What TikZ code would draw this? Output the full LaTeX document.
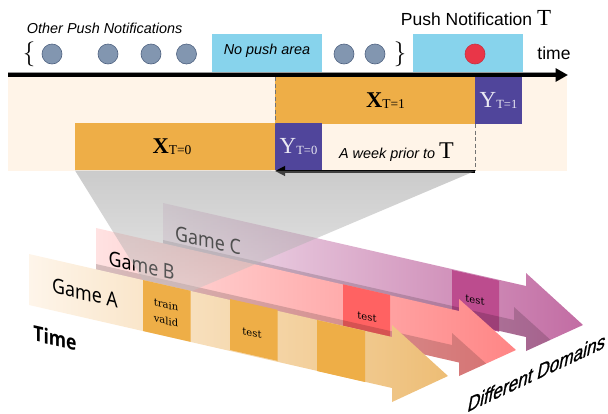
\documentclass[tikz,border=0pt]{standalone}
\usepackage{fontspec}
\setmainfont{Liberation Sans}
\newfontfamily\timesf{Liberation Serif}
\newfontfamily\gamef[FakeStretch=0.87]{Noto Sans}
\newfontfamily\gamebf[FakeStretch=0.84]{Open Sans}
\newfontfamily\domf[FakeBold=1,FakeSlant=0.2,FakeStretch=0.86]{Liberation Sans}
\newfontfamily\typef{DejaVu Serif}
\usetikzlibrary{arrows.meta}
\definecolor{skyb}{HTML}{87D3EC}
\definecolor{beige}{HTML}{FFF4E8}
\definecolor{orng}{HTML}{EEAE47}
\definecolor{purp}{HTML}{50459B}
\definecolor{dotb}{HTML}{8296B0}
\definecolor{dote}{HTML}{4F6280}
\definecolor{redd}{HTML}{E93648}
\definecolor{redE}{HTML}{C93040}
\definecolor{aL}{HTML}{FEF5EA}
\definecolor{aR}{HTML}{EDBD75}
\definecolor{bL}{HTML}{FFE2E2}
\definecolor{bR}{HTML}{FF8585}
\definecolor{cL}{HTML}{F3E6F0}
\definecolor{cR}{HTML}{C26CA3}
\definecolor{bT}{HTML}{FF6262}
\definecolor{cT}{HTML}{BC4C8E}
\tikzset{
 every node/.style={inner sep=0pt,outer sep=0pt},
 tbox/.style={minimum width=#1,minimum height=47pt},
 xbox/.style={tbox=200pt,fill=orng,text=black},
 ybox/.style={tbox=47pt,fill=purp,text=white!88!purp},
 skybox/.style={minimum width=110pt,minimum height=38pt,fill=skyb},
 dot/.style={circle,minimum size=20pt,fill=dotb,draw=dote,line width=.6pt},
 reddot/.style={circle,minimum size=20pt,fill=redd,draw=redE,line width=.6pt},
 lab/.style={font=\itshape\fontsize{14.4pt}{16pt}\selectfont},
 big/.style={font=\fontsize{17.5pt}{19pt}\selectfont},
 gamel/.style={font=\gamef\fontsize{20.5pt}{22pt}\selectfont,yslant=-.228},
 typel/.style={font=\typef\fontsize{10pt}{12pt}\selectfont,yslant=-.228},
 dashl/.style={dash pattern=on 4pt off 2.5pt,draw=black!55,line width=1pt},
 shadowp/.style={fill=black,fill opacity=.16},
}
\newcommand{\xsub}[1]{{\timesf\fontsize{22.5pt}{23pt}\selectfont\bfseries X\fontsize{13.5pt}{14pt}\selectfont\mdseries\raisebox{-1pt}{#1}}}
\newcommand{\ysub}[1]{{\timesf\fontsize{23pt}{24pt}\selectfont Y\fontsize{12.5pt}{14pt}\selectfont\raisebox{-1pt}{#1}}}
\begin{document}
\begin{tikzpicture}[x=1pt,y=-1pt]
\useasboundingbox (0,0) rectangle (608,413);
% ---- top panel
\fill[beige] (8,77) rectangle (567,171);
\node[skybox] (nopush) at (267,53) {};
\node[skybox] (pushT) at (468,53) {};
\node[lab] (nptext) at (267,51) {No push area};
\node[lab,anchor=west] (other) at (27,28) {Other Push Notifications};
\node[big,anchor=base] (pn) at (476,25) {Push Notification {\timesf\fontsize{23pt}{23pt}\selectfont T}};
\node[big] (timel) at (554,53) {time};
\node[font=\fontsize{26pt}{26pt}\selectfont] (lb) at (29,54) {$\{$};
\node[font=\fontsize{26pt}{26pt}\selectfont] (rb) at (400,54) {$\}$};
\foreach \n/\x in {a/52,b/108,c/151,d/186.5,e/344,f/375}{\node[dot] (dot\n) at (\x,54) {};}
\node[reddot] (dotT) at (475,54) {};
\coordinate (axisL) at (8,75);
\coordinate (axisR) at (568,75);
\draw[black!40,line width=.6pt] (8,72.3) -- (556,72.3);
\draw[line width=4.5pt,-{Triangle[length=12.5pt,width=13pt]}] (axisL) -- (axisR);
\node[xbox] (x1) at (375,100.5) {};
\node[ybox] (y1) at (498.5,100.5) {\ysub{T=1}};
\node[xbox] (x0) at (175,146.5) {};
\node[ybox] (y0) at (298.5,146.5) {\ysub{T=0}};
\node (x1t) at (385.5,101) {\xsub{T=1}};
\node (x0t) at (172,147) {\xsub{T=0}};
\draw[dashl] (x1.north west) -- (x0.north east);
\draw[dashl] (x1.south east) -- (475,170);
\node[lab,anchor=base] (week) at (396.5,158.7) {A week prior to {\timesf\upshape\fontsize{24pt}{24pt}\selectfont T}};
\draw[line width=3pt,-{Triangle[length=10pt,width=9.5pt]}] (475,171) -- (x0.south east |- 0,171);
% ---- Game C
\def\cshape{(163,203) -- (526,286) -- (526,273) -- (583,325) -- (526,351) -- (526,337) -- (163,254) -- cycle}
\def\bshape{(96,228) -- (459,311) -- (459,299) -- (516,350) -- (459,376) -- (459,362.5) -- (96,279) -- cycle}
\def\ashape{(29,254) -- (392,337) -- (392,325) -- (448,376) -- (392,402) -- (392,388) -- (29,305) -- cycle}
\shade[left color=cL,right color=cR] \cshape;
\fill[cT] (452,270) -- (499,280.7) -- (499,331.7) -- (452,320.7) -- cycle;
\begin{scope}
 \clip \cshape;
 \fill[shadowp] (163,240) -- (514,320) -- (514,307) -- (575,362) -- (400,362) -- (163,300) -- cycle;
\end{scope}
\node[gamel] (gamec) at (208,240.7) {Game C};
\node[typel] (testc) at (475,300) {test};
% ---- Game B
\shade[left color=bL,right color=bR] \bshape;
\fill[bT] (343,284.3) -- (390,295) -- (390,345) -- (343,335) -- cycle;
\begin{scope}
 \clip \bshape;
 \fill[shadowp] (96,264) -- (452,345) -- (452,333) -- (510,385) -- (300,385) -- (96,320) -- cycle;
\end{scope}
\node[gamel] (gameb) at (141.6,265.7) {Game B};
\node[typel] (testb) at (367,317) {test};
% ---- grey projection
\shade[top color=black!45,bottom color=black!22,fill opacity=.45] (75,170.5) -- (475,171) -- (192,291) -- (143,280) -- cycle;
% ---- Game A
\shade[left color=aL,right color=aR] \ashape;
\fill[orng] (143,280) -- (190.5,290.8) -- (190.5,341.8) -- (143,331) -- cycle;
\fill[orng] (230,299) -- (277.5,309.8) -- (277.5,360.8) -- (230,350) -- cycle;
\fill[orng] (317,320) -- (365,331) -- (365,382) -- (317,371) -- cycle;
\node[gamel] (gamea) at (85,293) {Game A};
\node[typel] (train) at (166,305) {train};
\node[typel] (valid) at (166,320.7) {valid};
\node[typel] (testa) at (252,333) {test};
% ---- outer labels
\node[font=\gamebf\bfseries\fontsize{21pt}{23pt}\selectfont,yslant=-.228] (timet) at (55,338) {Time};
\node[font=\domf\fontsize{20pt}{22pt}\selectfont,yslant=.47] (domains) at (535.5,373) {Different Domains};
\end{tikzpicture}
\end{document}
